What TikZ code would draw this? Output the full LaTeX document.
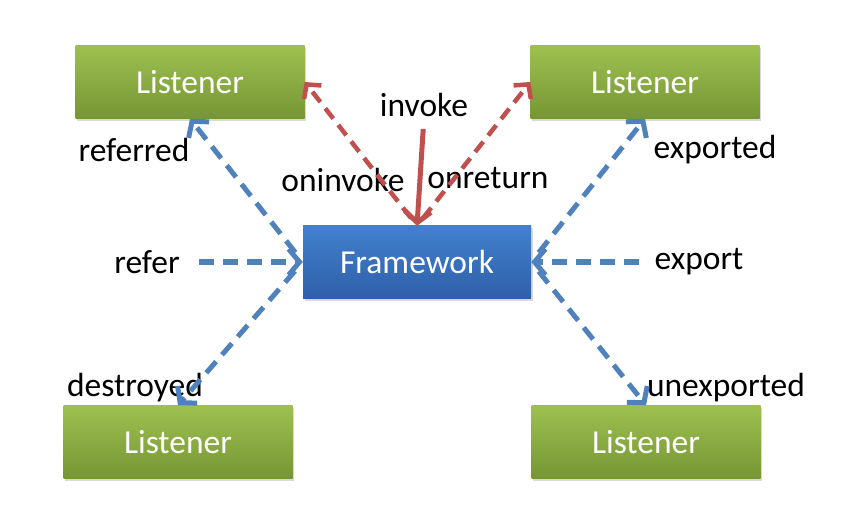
\documentclass[tikz,border=0pt]{standalone}
\usepackage{fontspec}
\setmainfont{Carlito}
\usetikzlibrary{arrows.meta,shadows}
\definecolor{lisgreen}{RGB}{158,192,80}
\definecolor{lisgreendark}{RGB}{118,150,52}
\definecolor{fwblue}{RGB}{66,128,205}
\definecolor{fwbluedark}{RGB}{46,96,170}
\definecolor{linkblue}{RGB}{79,129,189}
\definecolor{linkred}{RGB}{192,80,77}
\tikzset{
	listener/.style={minimum width=229pt,minimum height=73pt,top color=lisgreen,bottom color=lisgreendark,draw=none,text=white,drop shadow={shadow xshift=1.5pt,shadow yshift=-2.5pt,opacity=.3}},
	frame/.style={minimum width=228pt,minimum height=72pt,top color=fwblue,bottom color=fwbluedark,draw=none,text=white,drop shadow={shadow xshift=1.5pt,shadow yshift=-2.5pt,opacity=.3}},
	bluelink/.style={draw=linkblue,line width=5pt,dash pattern=on 15pt off 9pt,-{Straight Barb[length=11pt,width=26pt]}},
	redlink/.style={draw=linkred,line width=4.5pt,dash pattern=on 13pt off 8pt,-{Straight Barb[length=10pt,width=22pt]}},
	tag/.style={inner sep=0pt,text=black}
}

\begin{document}
\begin{tikzpicture}[x=1pt,y=-1pt,font=\fontsize{33.5}{40}\selectfont]
			\useasboundingbox (0,0) rectangle (864,529);
			% boxes
			\node[frame] (fw) at (417,262) {Framework};
			\node[listener] (lisTL) at (190,82) {Listener};
			\node[listener] (lisTR) at (645,82) {Listener};
			\node[listener] (lisBL) at (178,442) {Listener};
			\node[listener] (lisBR) at (646,442) {Listener};
			% labels
			\node[tag] (invoke) at (424,105) {invoke};
			\node[tag] (oninvoke) at (343,180) {oninvoke};
			\node[tag] (onreturn) at (488,178) {onreturn};
			\node[tag] (referred) at (134,150) {referred};
			\node[tag] (refer) at (147,262) {refer};
			\node[tag] (exported) at (715,150) {exported};
			\node[tag] (export) at (699,262) {export};
			\node[tag] (destroyed) at (135,388) {destroyed};
			\node[tag] (unexported) at (726,388) {unexported};
			% red links
			\draw[redlink,shorten <=10pt] (fw.north) -- (lisTL.east);
			\draw[redlink,shorten <=10pt] (fw.north) -- (lisTR.west);
			\draw[draw=linkred,line width=5pt,-{Straight Barb[length=11pt,width=26pt]},shorten <=12pt] (invoke.south) -- (fw.north);
			% blue links
			\draw[bluelink,shorten <=12pt] (fw.west) -- (lisTL.south);
			\draw[bluelink,shorten <=19pt] (refer.east) -- (fw.west);
			\draw[bluelink,shorten <=12pt] (fw.west) -- (lisBL.north);
			\draw[bluelink,shorten <=12pt] (fw.east) -- (lisTR.south);
			\draw[bluelink,shorten <=15pt] (export.west) -- (fw.east);
			\draw[bluelink,shorten <=12pt] (fw.east) -- (lisBR.north);
		\end{tikzpicture}
\end{document}
